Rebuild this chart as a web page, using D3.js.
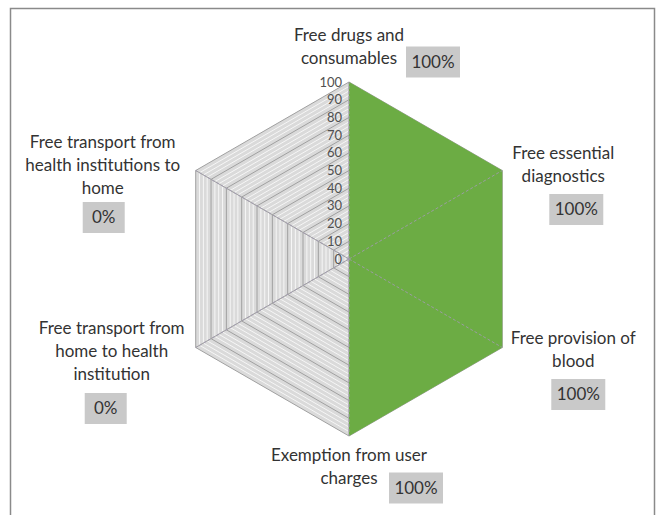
<!DOCTYPE html>
<html>
<head>
<meta charset="utf-8">
<script src="https://cdn.jsdelivr.net/npm/d3@7"></script>
<style>
  html, body { margin: 0; padding: 0; background: #fff; }
  svg { display: block; }
</style>
</head>
<body>
<svg id="chart" width="657" height="515"></svg>
<script>
// ---- data ----
const categories = [
  "Free drugs and consumables",
  "Free essential diagnostics",
  "Free provision of blood",
  "Exemption from user charges",
  "Free transport from home to health institution",
  "Free transport from health institutions to home"
];
const categoryLines = [
  ["Free drugs and", "consumables"],
  ["Free essential", "diagnostics"],
  ["Free provision of", "blood"],
  ["Exemption from user", "charges"],
  ["Free transport from", "home to health", "institution"],
  ["Free transport from", "health institutions to", "home"]
];
const values = [100, 100, 100, 100, 0, 0];
const valueLabels = ["100%", "100%", "100%", "100%", "0%", "0%"];
const tickValues = [0, 10, 20, 30, 40, 50, 60, 70, 80, 90, 100];

// ---- layout ----
const W = 657, H = 515;
const cx = 349, cy = 259, R = 177;
const FONT = "Lato, 'Open Sans', sans-serif";
const labelOffsets = [   // text first-line centre relative to the axis end
  [0, -47], [61, -17], [71, -9], [0, 19], [-84, -19], [-93, -28]
];
const boxOffsets = [     // value box centre relative to the axis end
  [84, -20], [74, 39], [76, 47], [67, 52], [-90, 61], [-92, 47]
];

const svg = d3.select("#chart");
const n = categories.length;
const r = d3.scaleLinear().domain([0, 100]).range([0, R]);
const angle = d3.scaleLinear().domain([0, n]).range([0, 2 * Math.PI]);
const pt = (i, v) => {
  const a = angle(i) - Math.PI / 2;
  return [cx + r(v) * Math.cos(a), cy + r(v) * Math.sin(a)];
};
const ring = v => d3.range(n).map(i => pt(i, v));
const line = d3.line().curve(d3.curveLinearClosed);

// frame
svg.append("rect")
  .attr("x", 10.5).attr("y", 8.5).attr("width", 644).attr("height", 530)
  .attr("fill", "#fff").attr("stroke", "#8a8a8a").attr("stroke-width", 1.5);

// plot background
svg.append("path").attr("d", line(ring(100)))
  .attr("fill", "#dadada").attr("stroke", "none");

// minor stripes
const minor = d3.range(2.5, 100, 2.5).filter(v => v % 10 !== 0);
svg.append("g").selectAll("path").data(minor).join("path")
  .attr("d", v => line(ring(v)))
  .attr("fill", "none").attr("stroke", "#f6f6f6").attr("stroke-width", 1);

// major gridlines
svg.append("g").selectAll("path").data(tickValues.filter(v => v > 0)).join("path")
  .attr("d", v => line(ring(v)))
  .attr("fill", "none").attr("stroke", "#a0a0a0").attr("stroke-width", 1);

// spokes (under)
svg.append("g").selectAll("line").data(d3.range(n)).join("line")
  .attr("x1", cx).attr("y1", cy)
  .attr("x2", i => pt(i, 100)[0]).attr("y2", i => pt(i, 100)[1])
  .attr("stroke", "#a0a0a0").attr("stroke-width", 1);

// series
svg.append("path")
  .attr("d", line(values.map((v, i) => pt(i, v))))
  .attr("fill", "#6cac44").attr("stroke", "none");

// spokes over the fill
svg.append("g").selectAll("line").data(d3.range(n)).join("line")
  .attr("x1", cx).attr("y1", cy)
  .attr("x2", i => pt(i, 100)[0]).attr("y2", i => pt(i, 100)[1])
  .attr("stroke", "#a39cb2").attr("stroke-width", 1)
  .attr("stroke-dasharray", "3,2").attr("opacity", 0.85);

// tick labels
svg.append("g").selectAll("text").data(tickValues).join("text")
  .attr("x", cx - 7).attr("y", v => cy - r(v))
  .attr("dy", "0.35em")
  .attr("text-anchor", "end")
  .attr("font-family", FONT).attr("font-size", 13)
  .attr("fill", "#505050")
  .text(v => v);

// category labels
const lab = svg.append("g");
categoryLines.forEach((lines, i) => {
  const [vx, vy] = pt(i, 100);
  const t = lab.append("text")
    .attr("text-anchor", "middle")
    .attr("font-family", FONT).attr("font-size", 17)
    .attr("fill", "#333");
  lines.forEach((s, k) => {
    t.append("tspan")
      .attr("x", vx + labelOffsets[i][0])
      .attr("y", vy + labelOffsets[i][1] + k * 23)
      .attr("dy", "0.35em")
      .text(s);
  });
});

// value boxes
const boxes = svg.append("g");
valueLabels.forEach((s, i) => {
  const [vx, vy] = pt(i, 100);
  const bx = vx + boxOffsets[i][0], by = vy + boxOffsets[i][1];
  const w = s.length > 2 ? 54 : 42, h = 31;
  boxes.append("rect")
    .attr("x", bx - w / 2).attr("y", by - h / 2)
    .attr("width", w).attr("height", h)
    .attr("fill", "#c9c9c9");
  boxes.append("text")
    .attr("x", bx).attr("y", by).attr("dy", "0.35em")
    .attr("text-anchor", "middle")
    .attr("font-family", FONT).attr("font-size", 17)
    .attr("fill", "#333")
    .text(s);
});
</script>
</body>
</html>
